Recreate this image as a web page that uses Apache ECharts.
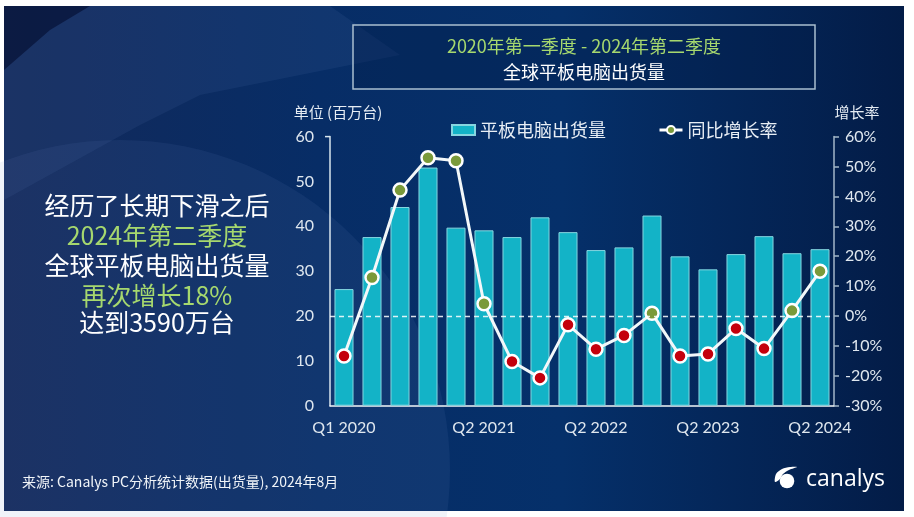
<!DOCTYPE html>
<html><head><meta charset="utf-8">
<script src="https://cdn.jsdelivr.net/npm/echarts@6/dist/echarts.min.js"></script>
<style>html,body{margin:0;padding:0;background:#fff}#c{width:914px;height:517px}</style>
</head><body><div id="c"></div>
<script>
const categories = ['Q1 2020','Q2 2020','Q3 2020','Q4 2020','Q1 2021','Q2 2021','Q3 2021','Q4 2021','Q1 2022','Q2 2022','Q3 2022','Q4 2022','Q1 2023','Q2 2023','Q3 2023','Q4 2023','Q1 2024','Q2 2024'];
const shipments = [26.0,37.6,44.3,53.1,39.7,39.1,37.6,42.0,38.7,34.7,35.3,42.4,33.3,30.4,33.8,37.8,34.0,34.9];
const growth = [-13.4,12.9,42.1,52.9,51.9,4.1,-15.2,-20.7,-2.9,-11.1,-6.5,0.9,-13.4,-12.7,-4.2,-10.9,1.8,15.0];
const shownLabels = ['Q1 2020','Q2 2021','Q2 2022','Q2 2023','Q2 2024'];
const titleLines = ['2020年第一季度 - 2024年第二季度','全球平板电脑出货量'];
const sideLines = ['经历了长期下滑之后','2024年第二季度','全球平板电脑出货量','再次增长18%','达到3590万台'];
const sideGreen = [false,true,false,true,false];
const sourceText = '来源: Canalys PC分析统计数据(出货量), 2024年8月';

const CJK = '"Noto Sans CJK SC", sans-serif';
const NUM = 'Lato, "Noto Sans CJK SC", sans-serif';
const GREEN_TXT = '#a6d86e';
const chart = echarts.init(document.getElementById('c'));

const graphics = [
  {type:'rect', z:-10, silent:true, shape:{x:4,y:6,width:900,height:505},
   style:{fill:new echarts.graphic.LinearGradient(0,0,1,0,[
     {offset:0,color:'#13295a'},{offset:0.35,color:'#072d66'},{offset:0.62,color:'#05306a'},{offset:1,color:'#031c47'}])}},
  {type:'circle', z:-9, silent:true, shape:{cx:120,cy:470,r:330}, style:{fill:'rgba(110,140,200,0.10)'}},
  {type:'polygon', z:-9, silent:true, shape:{points:[[4,6],[330,6],[400,55],[200,95],[140,125],[4,200]]},
   style:{fill:'rgba(90,120,180,0.12)'}},
  {type:'polygon', z:-8, silent:true, shape:{points:[[4,6],[90,6],[50,30],[4,70]]}, style:{fill:'rgba(0,8,40,0.55)'}},
  {type:'rect', z:-5, shape:{x:353,y:25,width:462,height:64}, style:{fill:'rgba(4,28,72,0.35)', stroke:'#a9bfcf', lineWidth:1.5}},
  {type:'text', style:{x:584,y:46,text:titleLines[0],fill:GREEN_TXT,font:'18px '+CJK,align:'center',verticalAlign:'middle'}},
  {type:'text', style:{x:584,y:72.5,text:titleLines[1],fill:'#ffffff',font:'18px '+CJK,align:'center',verticalAlign:'middle'}},
  {type:'text', style:{x:338,y:112,text:'单位 (百万台)',fill:'#e6edf4',font:'15px '+CJK,align:'center',verticalAlign:'middle'}},
  {type:'text', style:{x:857,y:112,text:'增长率',fill:'#e6edf4',font:'15px '+CJK,align:'center',verticalAlign:'middle'}},
  {type:'text', style:{x:22,y:482,text:sourceText,fill:'#f0f4f8',font:'14px '+CJK,align:'left',verticalAlign:'middle'}},
  {type:'text', style:{x:806,y:479,text:'canalys',fill:'#ffffff',font:'23px "Open Sans", sans-serif',align:'left',verticalAlign:'middle'}},
  {type:'circle', shape:{cx:787,cy:481,r:7.3}, style:{fill:'#ffffff'}},
  {type:'polygon', shape:{points:[[775,482],[776,474],[782,469],[790,467],[797,467],[789,470],[783,474],[780,479]],smooth:0.3}, style:{fill:'#ffffff'}},
  {type:'line', shape:{x1:325,y1:136.6,x2:330,y2:136.6}, style:{stroke:'#d8e6ee',lineWidth:1.5}}
];
const sideY = [205,235,265,295,322];
sideLines.forEach((t,i)=>graphics.push({type:'text', style:{x:157,y:sideY[i],text:t,fill:sideGreen[i]?GREEN_TXT:'#ffffff',font:'25px '+CJK,align:'center',verticalAlign:'middle'}}));

chart.setOption({
  backgroundColor:'#ffffff',
  animation:false,
  graphic:graphics,
  grid:{left:330,right:80,top:136.6,bottom:111.3,containLabel:false},
  legend:{left:446,top:116,itemGap:52,itemWidth:23,itemHeight:10,
    textStyle:{color:'#e8eef5',fontSize:18,fontFamily:CJK},
    data:[{name:'平板电脑出货量',icon:'rect'},
          {name:'同比增长率',itemStyle:{color:'#7a9a3a',borderColor:'#ffffff',borderWidth:2},lineStyle:{color:'#ffffff',width:3}}]},
  xAxis:{type:'category',data:categories,
    axisLine:{lineStyle:{color:'#f2f6f8',width:1.5}},
    axisTick:{show:false},
    axisLabel:{interval:(i,v)=>shownLabels.includes(v),color:'#dfe7ef',fontSize:16,fontFamily:NUM,margin:14}},
  yAxis:[
    {type:'value',min:0,max:60,interval:10,
     axisLine:{show:true,lineStyle:{color:'#d8e6ee',width:1.5}},
     axisTick:{show:false},splitLine:{show:false},
     axisLabel:{color:'#dfe7ef',fontSize:16,fontFamily:NUM,margin:16}},
    {type:'value',min:-30,max:60,interval:10,
     axisLine:{show:true,lineStyle:{color:'#a3b6c8',width:1.5}},
     axisTick:{show:true,length:5,lineStyle:{color:'#a3b6c8',width:1.5}},splitLine:{show:false},
     axisLabel:{color:'#dfe7ef',fontSize:16,fontFamily:NUM,margin:11,formatter:'{value}%'}}
  ],
  series:[
    {name:'平板电脑出货量',type:'bar',data:shipments,barWidth:'68%',
     itemStyle:{color:'#13b3c7',borderColor:'#86d6e0',borderWidth:1}},
    {name:'同比增长率',type:'line',yAxisIndex:1,data:growth,symbol:'circle',symbolSize:13,
     lineStyle:{color:'#f2f7f9',width:3},
     itemStyle:{color:p=>p.value>=0?'#7a9a3a':'#c4000c',borderColor:'#ffffff',borderWidth:2.5},
     markLine:{silent:true,symbol:'none',label:{show:false},
       lineStyle:{type:[5,4],color:'rgba(255,255,255,0.85)',width:1.3},
       data:[{yAxis:0}]}}
  ]
});
</script></body></html>
